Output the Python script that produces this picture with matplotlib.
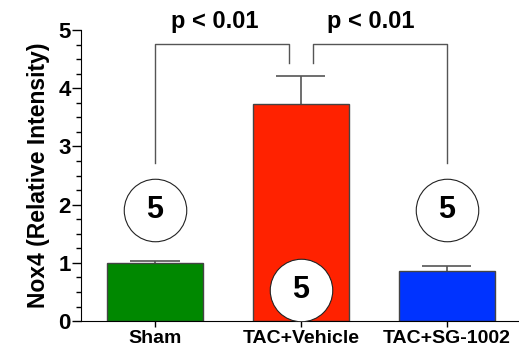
import numpy as np
import matplotlib.pyplot as plt
from matplotlib.ticker import MultipleLocator

#   Group data
groups      =   ["Sham", "TAC+Vehicle", "TAC+SG-1002"]
means       =   [1.00, 3.73, 0.86]
sems        =   [0.03, 0.48, 0.09]
colors      =   ["#008800", "#ff2200", "#0033ff"]
n_labels    =   ["5", "5", "5"]
n_y         =   [1.91, 0.53, 1.91]
p_labels    =   ["p < 0.01", "p < 0.01"]

plt.rcParams['font.family'] = ['Liberation Sans', 'DejaVu Sans']
plt.rcParams['font.weight'] = 'bold'

fig = plt.figure(figsize=(5.19, 3.49), dpi=100)
ax = fig.add_axes([0.156, 0.080, 0.843, 0.834])

x = np.arange(len(groups))
ax.bar(x, means, width=0.66, color=colors, edgecolor="#444444", linewidth=1.0, zorder=2)

#   Upper error bars only (stem hidden behind bar)
tops = np.array(means) + np.array(sems)
ax.vlines(x, means, tops, colors="#555555", lw=1.2, zorder=1)
ax.hlines(tops, x - 0.168, x + 0.168, colors="#555555", lw=1.2, zorder=1)

#   n circles
for xi, yi, lab in zip(x, n_y, n_labels):
    ax.plot(xi, yi, marker='o', markersize=45, markerfacecolor='white',
            markeredgecolor='#222222', markeredgewidth=0.8, zorder=3)
    ax.text(xi, yi, lab, ha='center', va='center', fontsize=22,
            fontweight='bold', zorder=4)

#   Significance brackets
br_top = 4.76
ax.plot([0, 0, 0.92, 0.92], [2.71, br_top, br_top, 4.43], color="#555555", lw=1.0)
ax.plot([1.08, 1.08, 2, 2], [4.43, br_top, br_top, 2.71], color="#555555", lw=1.0)
ax.text(0.41, 5.15, p_labels[0], ha='center', va='center', fontsize=17, fontweight='bold',
        clip_on=False)
ax.text(1.48, 5.15, p_labels[1], ha='center', va='center', fontsize=17, fontweight='bold',
        clip_on=False)

ax.set_xlim(-0.507, 2.49)
ax.set_ylim(0, 5)
ax.set_xticks(x)
ax.set_xticklabels(groups, fontsize=14, fontweight='bold')
ax.yaxis.set_major_locator(MultipleLocator(1))
ax.yaxis.set_minor_locator(MultipleLocator(0.25))
ax.tick_params(axis='y', which='major', length=6.5, width=1, labelsize=16, pad=1)
ax.tick_params(axis='y', which='minor', length=3.4, width=1)
ax.tick_params(axis='x', length=4, width=1, pad=2.5)
for lab in ax.get_yticklabels():
    lab.set_fontweight('bold')
ax.set_ylabel("Nox4 (Relative Intensity)", fontsize=16.5, fontweight='bold', labelpad=6)

ax.spines['top'].set_visible(False)
ax.spines['right'].set_visible(False)

fig.savefig("out.png", dpi=100)
